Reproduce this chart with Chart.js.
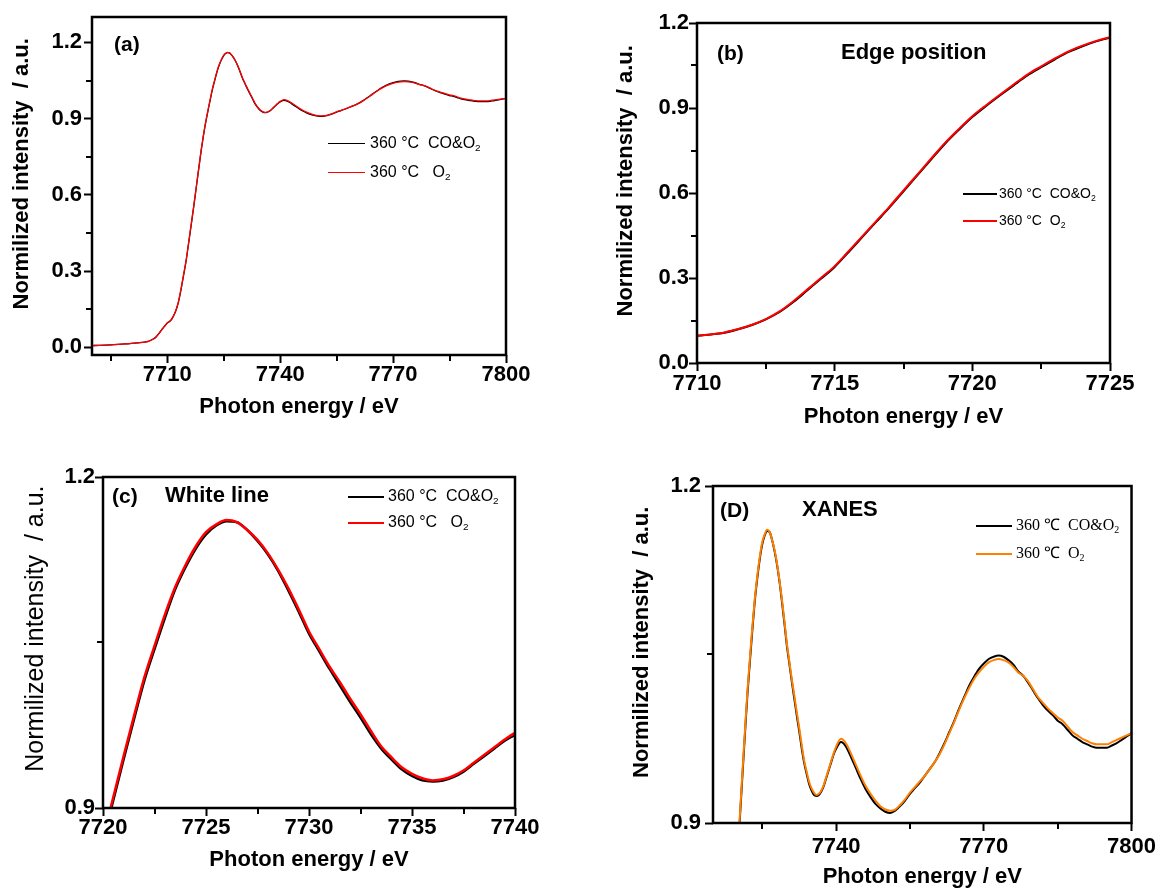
<!DOCTYPE html>
<html>
<head>
<meta charset="utf-8">
<script src="https://cdn.jsdelivr.net/npm/chart.js@4.4.1/dist/chart.umd.min.js"></script>
<style>
  html, body { margin: 0; padding: 0; background: #fff; }
  #wrap { position: relative; width: 1159px; height: 891px; overflow: hidden; background: #fff; }
  canvas.layer { position: absolute; left: 0; top: 0; }
  .note { position: absolute; white-space: pre; line-height: 1; transform: translateY(-50%);
          font-family: "Liberation Sans", Arial, sans-serif; font-weight: bold; color: #000; }
  .leg { position: absolute; white-space: pre; line-height: 1; transform: translateY(-50%); color: #000; }
  .leg i { display: inline-block; vertical-align: middle; }
  .leg sub { font-size: 62%; vertical-align: -0.35em; line-height: 0; }
</style>
</head>
<body>
<div id="wrap"></div>
<script>
// Photon energy grid (eV)
const energy = [
  7690, 7692, 7695, 7698, 7700, 7702, 7704, 7705, 7706, 7707,
  7708, 7708.5, 7709, 7709.5, 7710, 7710.5, 7711, 7711.5, 7712, 7712.5,
  7713, 7713.5, 7714, 7714.5, 7715, 7715.5, 7716, 7716.5, 7717, 7717.5,
  7718, 7718.5, 7719, 7719.5, 7720, 7720.5, 7721, 7721.5, 7722, 7722.5,
  7723, 7723.5, 7724, 7724.5, 7725, 7725.5, 7726, 7726.5, 7727, 7727.5,
  7728, 7728.5, 7729, 7729.5, 7730, 7730.5, 7731, 7731.5, 7732, 7732.5,
  7733, 7733.5, 7734, 7734.5, 7735, 7735.5, 7736, 7736.5, 7737, 7737.5,
  7738, 7738.5, 7739, 7739.5, 7740, 7741, 7742, 7743, 7744, 7745,
  7746, 7747, 7748, 7749, 7750, 7751, 7752, 7753, 7754, 7755,
  7756, 7757, 7758, 7759, 7760, 7761, 7762, 7763, 7764, 7765,
  7766, 7767, 7768, 7769, 7770, 7771, 7772, 7773, 7774, 7775,
  7776, 7777, 7778, 7779, 7780, 7781, 7782, 7783, 7784, 7785,
  7786, 7787, 7788, 7789, 7790, 7791, 7792, 7793, 7794, 7795,
  7796, 7797, 7798, 7799, 7800
];

// Normalized intensity, 360 °C under CO & O2
const intensityCOO2 = [
  0.007, 0.008, 0.010, 0.013, 0.015, 0.018, 0.021, 0.024, 0.031, 0.041,
  0.059, 0.069, 0.079, 0.087, 0.096, 0.101, 0.107, 0.119, 0.134, 0.154,
  0.180, 0.215, 0.256, 0.297, 0.339, 0.391, 0.444, 0.497, 0.550, 0.606,
  0.662, 0.718, 0.773, 0.822, 0.868, 0.907, 0.944, 0.980, 1.015, 1.044,
  1.072, 1.098, 1.118, 1.135, 1.148, 1.156, 1.160, 1.159, 1.152, 1.142,
  1.130, 1.115, 1.097, 1.078, 1.058, 1.042, 1.026, 1.011, 0.996, 0.982,
  0.967, 0.954, 0.944, 0.935, 0.929, 0.925, 0.924, 0.925, 0.928, 0.933,
  0.940, 0.947, 0.954, 0.961, 0.966, 0.972, 0.968, 0.959, 0.949, 0.939,
  0.930, 0.923, 0.917, 0.913, 0.910, 0.909, 0.911, 0.915, 0.920, 0.926,
  0.931, 0.936, 0.942, 0.948, 0.954, 0.962, 0.971, 0.981, 0.991, 1.002,
  1.012, 1.022, 1.030, 1.037, 1.042, 1.046, 1.048, 1.049, 1.048, 1.045,
  1.041, 1.035, 1.031, 1.025, 1.018, 1.011, 1.005, 1.000, 0.996, 0.991,
  0.988, 0.983, 0.978, 0.975, 0.972, 0.970, 0.968, 0.967, 0.967, 0.967,
  0.969, 0.971, 0.974, 0.977, 0.980
];

// Normalized intensity, 360 °C under O2
const intensityO2 = [
  0.007, 0.008, 0.010, 0.013, 0.015, 0.018, 0.021, 0.024, 0.030, 0.040,
  0.058, 0.068, 0.078, 0.087, 0.096, 0.101, 0.108, 0.120, 0.135, 0.155,
  0.182, 0.218, 0.259, 0.300, 0.342, 0.394, 0.447, 0.500, 0.553, 0.609,
  0.665, 0.721, 0.776, 0.825, 0.871, 0.910, 0.947, 0.983, 1.018, 1.047,
  1.075, 1.100, 1.120, 1.137, 1.150, 1.157, 1.161, 1.159, 1.152, 1.143,
  1.131, 1.116, 1.099, 1.080, 1.060, 1.044, 1.028, 1.014, 0.999, 0.985,
  0.970, 0.956, 0.946, 0.937, 0.931, 0.927, 0.925, 0.926, 0.929, 0.934,
  0.941, 0.948, 0.955, 0.962, 0.968, 0.975, 0.971, 0.962, 0.952, 0.942,
  0.933, 0.926, 0.920, 0.915, 0.912, 0.911, 0.912, 0.916, 0.921, 0.927,
  0.932, 0.937, 0.942, 0.948, 0.954, 0.961, 0.970, 0.980, 0.990, 1.001,
  1.011, 1.020, 1.028, 1.034, 1.039, 1.043, 1.045, 1.046, 1.045, 1.043,
  1.039, 1.034, 1.031, 1.026, 1.019, 1.012, 1.007, 1.002, 0.998, 0.994,
  0.991, 0.986, 0.981, 0.978, 0.975, 0.973, 0.971, 0.970, 0.970, 0.970,
  0.972, 0.974, 0.976, 0.978, 0.980
];

const seriesNames = ['360 °C CO&O₂', '360 °C O₂'];

// Axis ticks for each panel (labelled / unlabelled)
const xTicksA = [7710, 7740, 7770, 7800];
const xMinorA = [7695, 7725, 7755, 7785];
const yTicksA = [0.0, 0.3, 0.6, 0.9, 1.2];
const yMinorA = [0.15, 0.45, 0.75, 1.05];

const xTicksB = [7710, 7715, 7720, 7725];
const xMinorB = [7712.5, 7717.5, 7722.5];
const yTicksB = [0.0, 0.3, 0.6, 0.9, 1.2];
const yMinorB = [0.15, 0.45, 0.75, 1.05];

const xTicksC = [7720, 7725, 7730, 7735, 7740];
const xMinorC = [7722.5, 7727.5, 7732.5, 7737.5];
const yTicksC = [0.9, 1.2];
const yMinorC = [1.05];

const xTicksD = [7740, 7770, 7800];
const xMinorD = [7725, 7755, 7785];
const yTicksD = [0.9, 1.2];
const yMinorD = [1.05];

const SANS = '"Liberation Sans", Arial, sans-serif';
const SERIF = '"Liberation Serif", "Times New Roman", serif';
const W = 1159, H = 891;
const TICK = 8;        // labelled tick length
const MINOR = 6;       // unlabelled tick length

// Frame around the plot area plus the short unlabelled tick marks
const boxFrame = {
  id: 'boxFrame',
  afterDraw(chart, args, opts) {
    const { ctx, chartArea: a } = chart;
    const sx = chart.scales.x, sy = chart.scales.y;
    ctx.save();
    ctx.strokeStyle = '#000';
    ctx.lineWidth = 2;
    ctx.lineCap = 'butt';
    for (const v of opts.xMinor) {
      const p = Math.round(sx.getPixelForValue(v));
      ctx.beginPath();
      ctx.moveTo(p, a.bottom);
      ctx.lineTo(p, a.bottom + MINOR);
      ctx.stroke();
    }
    for (const v of opts.yMinor) {
      const p = Math.round(sy.getPixelForValue(v));
      ctx.beginPath();
      ctx.moveTo(a.left, p);
      ctx.lineTo(a.left - MINOR, p);
      ctx.stroke();
    }
    ctx.lineWidth = 2.5;
    ctx.strokeRect(a.left, a.top, a.right - a.left, a.bottom - a.top);
    ctx.restore();
  }
};

const panels = [
  { area: [92, 17, 506, 355], xr: [7690, 7800], yr: [-0.03, 1.3],
    xT: xTicksA, xM: xMinorA, yT: yTicksA, yM: yMinorA,
    colors: ['#000000', '#ff0000'], lw: 1.3,
    yTitleX: 22, yTitleFont: { size: 22, weight: 'bold' }, xTitleY: 407,
    xPad: 7, yPad: 10,
    notes: [{ text: '(a)', x: 114, y: 43, size: 21 }],
    legend: { x: 328, rows: [143, 172], line: 37, gap: 5, lw: 1.2, font: '16px ' + SANS,
              labels: [['360 °C  CO&O', '2'], ['360 °C   O', '2']] } },
  { area: [697, 23, 1110, 363], xr: [7710, 7725], yr: [0, 1.2],
    xT: xTicksB, xM: xMinorB, yT: yTicksB, yM: yMinorB,
    colors: ['#000000', '#ff0000'], lw: 2,
    yTitleX: 626, yTitleFont: { size: 22, weight: 'bold' }, xTitleY: 417,
    xPad: 8, yPad: 8,
    notes: [{ text: '(b)', x: 717, y: 52, size: 21 }, { text: 'Edge position', x: 841, y: 52, size: 22 }],
    legend: { x: 963, rows: [193, 220], line: 34, gap: 2, lw: 2, font: '14px ' + SANS,
              labels: [['360 °C  CO&O', '2'], ['360 °C  O', '2']] } },
  { area: [103, 477, 515, 808], xr: [7720, 7740], yr: [0.9, 1.2],
    xT: xTicksC, xM: xMinorC, yT: yTicksC, yM: yMinorC,
    colors: ['#000000', '#ff0000'], lw: 2.5,
    yTitleX: 36, yTitleFont: { size: 25, weight: 'normal' }, xTitleY: 860,
    xPad: 7, yPad: 8,
    notes: [{ text: '(c)', x: 112, y: 495, size: 21 }, { text: 'White line', x: 165, y: 495, size: 22 }],
    legend: { x: 348, rows: [496, 522], line: 36, gap: 4, lw: 2.5, font: '16px ' + SANS,
              labels: [['360 °C  CO&O', '2'], ['360 °C   O', '2']] } },
  { area: [713, 486, 1132, 823], xr: [7715, 7800], yr: [0.9, 1.2],
    xT: xTicksD, xM: xMinorD, yT: yTicksD, yM: yMinorD,
    colors: ['#000000', '#ff7f00'], lw: 2,
    yTitleX: 642, yTitleFont: { size: 22, weight: 'bold' }, xTitleY: 877,
    xPad: 11, yPad: 12,
    notes: [{ text: '(D)', x: 720, y: 509, size: 21 }, { text: 'XANES', x: 802, y: 509, size: 22 }],
    legend: { x: 976, rows: [524, 552], line: 36, gap: 4, lw: 2, font: '16px ' + SERIF,
              labels: [['360 ℃  CO&O', '2'], ['360 ℃  O', '2']] } }
];

const wrap = document.getElementById('wrap');

function series(values) {
  return energy.map((e, i) => ({ x: e, y: values[i] }));
}

// Labelled ticks come from the scales themselves, drawn outward only
const tickGrid = {
  display: true, drawOnChartArea: false, drawTicks: true,
  tickLength: TICK, tickWidth: 2, tickColor: '#000', color: 'rgba(0,0,0,0)'
};
const tickFont = { family: SANS, size: 22, weight: 'bold' };

function buildPanel(p) {
  const [l, t, r, b] = p.area;
  const canvas = document.createElement('canvas');
  canvas.width = W; canvas.height = H; canvas.className = 'layer';
  wrap.appendChild(canvas);

  const yFont = { family: SANS, size: p.yTitleFont.size, weight: p.yTitleFont.weight };
  const yLeft = p.yTitleX - 30;            // left edge of the y-axis box
  const yWidth = l - yLeft;
  const yTitlePad = 30 - yFont.size * 0.6;
  const xHeight = 68;
  const xBottom = b + xHeight;
  const xTitlePad = Math.max(0, xBottom - p.xTitleY - 22 * 0.6);

  const line = (values, color, order) => ({
    data: series(values), borderColor: color, borderWidth: p.lw, pointRadius: 0,
    cubicInterpolationMode: 'monotone', fill: false, order, clip: 0
  });

  new Chart(canvas, {
    type: 'line',
    data: {
      datasets: [
        Object.assign({ label: seriesNames[0] }, line(intensityCOO2, p.colors[0], 2)),
        Object.assign({ label: seriesNames[1] }, line(intensityO2, p.colors[1], 1))
      ]
    },
    options: {
      responsive: false, animation: false, events: [],
      layout: { padding: { left: yLeft, top: t, right: W - r, bottom: H - xBottom } },
      plugins: {
        legend: { display: false }, tooltip: { enabled: false },
        boxFrame: { xMinor: p.xM, yMinor: p.yM }
      },
      scales: {
        x: {
          type: 'linear', min: p.xr[0], max: p.xr[1],
          grid: tickGrid, border: { display: false },
          afterBuildTicks: s => { s.ticks = p.xT.map(v => ({ value: v })); },
          afterFit: s => { s.height = xHeight; },
          ticks: { autoSkip: false, maxRotation: 0, padding: p.xPad - TICK, color: '#000',
                   font: tickFont, callback: v => String(v) },
          title: { display: true, text: 'Photon energy / eV', color: '#000',
                   font: { family: SANS, size: 22, weight: 'bold' },
                   padding: { top: 0, bottom: xTitlePad } }
        },
        y: {
          type: 'linear', min: p.yr[0], max: p.yr[1],
          grid: tickGrid, border: { display: false },
          afterBuildTicks: s => { s.ticks = p.yT.map(v => ({ value: v })); },
          afterFit: s => { s.width = yWidth; },
          ticks: { autoSkip: false, padding: p.yPad - TICK, color: '#000',
                   font: tickFont, callback: v => Number(v).toFixed(1) },
          title: { display: true, text: '\u00a0\u00a0\u00a0\u00a0Normilized intensity  / a.u.', color: '#000',
                   font: yFont, padding: { top: yTitlePad, bottom: 0 } }
        }
      }
    },
    plugins: [boxFrame]
  });

  p.notes.forEach(n => {
    const d = document.createElement('div');
    d.className = 'note';
    d.textContent = n.text;
    d.style.left = n.x + 'px';
    d.style.top = n.y + 'px';
    d.style.fontSize = n.size + 'px';
    wrap.appendChild(d);
  });

  const lg = p.legend;
  lg.rows.forEach((rowY, i) => {
    const row = document.createElement('div');
    row.className = 'leg';
    row.style.left = lg.x + 'px';
    row.style.top = rowY + 'px';
    row.style.font = lg.font;
    const sw = document.createElement('i');
    sw.style.width = lg.line + 'px';
    sw.style.height = lg.lw + 'px';
    sw.style.background = p.colors[i];
    sw.style.marginRight = lg.gap + 'px';
    row.appendChild(sw);
    row.appendChild(document.createTextNode(lg.labels[i][0]));
    const sub = document.createElement('sub');
    sub.textContent = lg.labels[i][1];
    row.appendChild(sub);
    wrap.appendChild(row);
  });
}

panels.forEach(buildPanel);
</script>
</body>
</html>
